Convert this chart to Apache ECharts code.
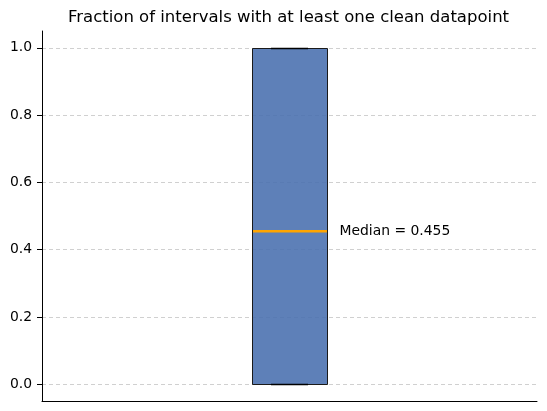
<!DOCTYPE html>
<html>
<head>
<meta charset="utf-8">
<script src="https://cdn.jsdelivr.net/npm/echarts@6/dist/echarts.min.js"></script>
<style>
  html, body { margin: 0; padding: 0; background: #fff; }
  #chart { width: 547px; height: 411px; }
</style>
</head>
<body>
<div id="chart"></div>
<script>
// box statistics: [position, whiskerLow, q1, median, q3, whiskerHigh]
const positions = [1];
const whiskerLow = [0.0];
const q1 = [0.0];
const medians = [0.455];
const q3 = [1.0];
const whiskerHigh = [1.0];
const yTicks = [0.0, 0.2, 0.4, 0.6, 0.8, 1.0];

const boxData = positions.map((p, i) => [p, whiskerLow[i], q1[i], medians[i], q3[i], whiskerHigh[i]]);

const chart = echarts.init(document.getElementById('chart'));

// snap to half pixels so 1px strokes stay crisp
const px = v => Math.round(v) + 0.5;

const option = {
  animation: false,
  title: {
    text: 'Fraction of intervals with at least one clean datapoint',
    left: 68,
    top: 9,
    padding: 0,
    textStyle: {
      fontFamily: 'DejaVu Sans',
      fontSize: 16.5,
      fontWeight: 'normal',
      color: '#000'
    }
  },
  grid: { left: 42, right: 10, top: 31, bottom: 10 },
  xAxis: {
    type: 'value',
    min: 0.5,
    max: 1.5,
    axisLine: { show: true, onZero: false, lineStyle: { color: '#000', width: 1 } },
    axisTick: { show: false },
    axisLabel: { show: false },
    splitLine: { show: false }
  },
  yAxis: {
    type: 'value',
    min: -0.05,
    max: 1.05,
    axisLine: { show: true, lineStyle: { color: '#000', width: 1 } },
    axisTick: {
      show: true,
      customValues: yTicks,
      length: 5,
      lineStyle: { color: '#000' }
    },
    axisLabel: {
      customValues: yTicks,
      formatter: v => v.toFixed(1),
      margin: 10,
      fontFamily: 'DejaVu Sans',
      fontSize: 13.9,
      color: '#000'
    },
    splitLine: {
      show: true,
      lineStyle: { color: '#c4c4c4', type: [4, 3], width: 0.8 }
    }
  },
  series: [
    {
      type: 'custom',
      data: boxData,
      renderItem: (params, api) => {
        const x = api.value(0);
        const halfBox = 0.075;
        const halfCap = 0.0375;
        const left = px(api.coord([x - halfBox, 0])[0]);
        const right = px(api.coord([x + halfBox, 0])[0]);
        const capL = api.coord([x - halfCap, 0])[0];
        const capR = api.coord([x + halfCap, 0])[0];
        const cx = px(api.coord([x, 0])[0]);
        const yLow = px(api.coord([x, api.value(1)])[1]);
        const yQ1 = px(api.coord([x, api.value(2)])[1]);
        const yMed = api.coord([x, api.value(3)])[1];
        const yQ3 = px(api.coord([x, api.value(4)])[1]);
        const yHigh = px(api.coord([x, api.value(5)])[1]);
        const dark = { stroke: '#000', lineWidth: 1 };
        return {
          type: 'group',
          children: [
            { type: 'line', shape: { x1: cx, y1: yQ1, x2: cx, y2: yLow }, style: dark },
            { type: 'line', shape: { x1: cx, y1: yQ3, x2: cx, y2: yHigh }, style: dark },
            {
              type: 'rect',
              shape: { x: left, y: yQ3, width: right - left, height: yQ1 - yQ3 },
              style: { fill: 'rgba(76,114,176,0.9)', stroke: '#1a1a1a', lineWidth: 1 }
            },
            { type: 'line', shape: { x1: capL, y1: yLow, x2: capR, y2: yLow }, style: { stroke: '#000', lineWidth: 1.5 } },
            { type: 'line', shape: { x1: capL, y1: yHigh, x2: capR, y2: yHigh }, style: { stroke: '#000', lineWidth: 1.5 } },
            { type: 'line', shape: { x1: left + 0.5, y1: yMed, x2: right - 0.5, y2: yMed }, style: { stroke: '#ffa500', lineWidth: 2.5 } },
            {
              type: 'text',
              x: right + 12,
              y: yMed,
              style: {
                text: 'Median = ' + api.value(3).toFixed(3),
                fontFamily: 'DejaVu Sans',
                fontSize: 13.9,
                fill: '#000',
                verticalAlign: 'middle',
                align: 'left'
              }
            }
          ]
        };
      }
    }
  ]
};

chart.setOption(option);
</script>
</body>
</html>
